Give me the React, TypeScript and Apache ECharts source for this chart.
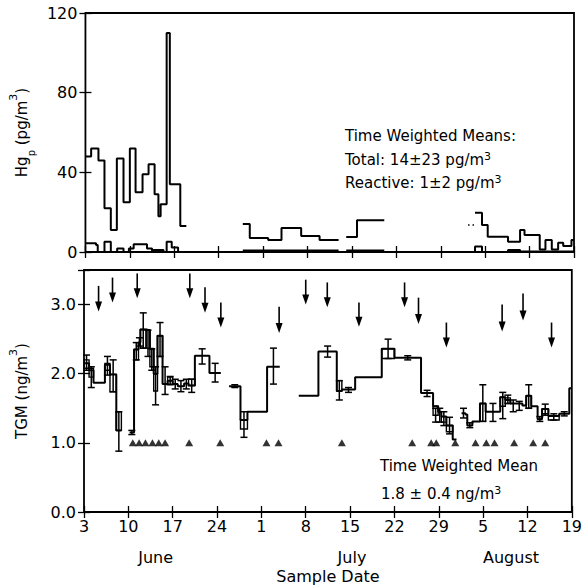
import React, { useEffect, useRef } from 'react';
import * as echarts from 'echarts';

// x axis: days since 3 June (0 = June 3, 28 = July 1, 59 = Aug 1)
const xTickLabels = ['3', '10', '17', '24', '1', '8', '15', '22', '29', '5', '12', '19'];
const monthNames = ['June', 'July', 'August'];
const monthCenters = [11.3, 42.3, 67.4];

// Particulate Hg, total (step segments)
const hgTotalStart = [0, 0.9, 2.05, 3, 4, 4.95, 6, 7, 7.9, 9, 9.95, 10.9, 11.5, 11.85, 12.8, 13.3, 14.95,
  24.8, 25.9, 28.8, 30.9, 34, 36.9, 41.1, 42.8,
  61.4, 62.5, 63.4, 66.6, 68.5, 69.2, 71.6, 72.5, 73.5, 74.5, 75.3, 76.6];
const hgTotalEnd = [0.9, 2.05, 3, 4, 4.95, 6, 7, 7.9, 9, 9.95, 10.9, 11.5, 11.85, 12.8, 13.3, 14.95, 15.9,
  25.9, 28.8, 30.9, 34, 36.9, 39.9, 42.8, 47.1,
  62.5, 63.4, 66.6, 68.5, 69.2, 71.6, 72.5, 73.5, 74.5, 75.3, 76.6, 77];
const hgTotalValue = [48, 52, 46, 22, 11, 47, 25, 52, 30, 39, 44, 29, 18, 24, 110, 34, 13,
  14, 7, 6, 12, 8, 6, 7.5, 16,
  19.7, 13.6, 7.7, 5.2, 11, 8.5, 1.3, 6, 1.3, 4.7, 3, 6];
const hgDottedStart = [60.3];
const hgDottedEnd = [61.4];
const hgDottedValue = [13.6];

// Particulate Hg, reactive
const hgReactStart = [0, 1.67, 1.94, 3, 4, 5, 6, 6.85, 7.6, 9.7, 10.5, 10.7, 12.3, 12.8, 13.6, 14.6,
  24.8, 41.1, 60.3, 61.4, 62.5, 66.6, 68.5];
const hgReactEnd = [1.67, 1.94, 3, 4, 5, 6, 6.85, 7.6, 9.7, 10.5, 10.7, 12.3, 12.8, 13.6, 14.6, 15.9,
  39.9, 47.1, 61.4, 62.5, 66.6, 68.5, 77];
const hgReactValue = [4.4, 3.5, 0, 5.2, 0, 1.8, 0, 1.8, 3.9, 1.8, 0, 1, 0, 5.2, 2.3, 0,
  0.7, 0.7, 0, 2.7, 0, 1, 0.3];

// TGM (ng/m3)
const tgmStart = [
  0, 0.8, 1.5, 3.3, 4.1, 5.1,
  7.2, 7.9, 8.6, 8.9, 9.8, 10.4, 11.0, 11.6, 12.4, 13.2, 14.0, 14.8, 15.8, 16.5, 17.5, 19.8,
  22.9, 24.7, 25.8, 28.9,
  33.9, 37, 39.9, 40.7, 42.8, 47, 49, 53.2, 55.1, 55.9, 56.4, 57.2, 58.2,
  59.6, 60.2, 60.5, 61.3, 62.5, 63.4, 65.7, 66.5, 67.3, 68.2, 69.2, 69.8, 70.6, 71.6, 72.3, 73.3, 75, 76.6];
const tgmEnd = [
  0.8, 1.5, 3.3, 4.1, 5.1, 5.9,
  7.9, 8.6, 8.9, 9.8, 10.4, 11.0, 11.6, 12.4, 13.2, 14.0, 14.8, 15.8, 16.5, 17.5, 19.8, 21.6,
  24.7, 25.8, 28.9, 30.9,
  37, 39.9, 40.7, 42.8, 47, 49, 53.2, 55.1, 55.9, 56.4, 57.2, 58.2, 58.8,
  60.2, 60.5, 61.3, 62.5, 63.4, 65.7, 66.5, 67.3, 68.2, 69.2, 69.8, 70.6, 71.6, 72.3, 73.3, 75, 76.6, 77];
const tgmValue = [
  2.15, 2.05, 1.87, 2.13, 1.99, 1.18,
  1.15, 2.35, 2.45, 2.64, 2.63, 2.36, 2.0, 2.55, 1.85, 1.9, 1.85, 1.82, 1.86, 1.83, 2.26, 2.01,
  1.82, 1.33, 1.45, 2.1,
  1.68, 2.32, 1.75, 1.77, 1.95, 2.36, 2.23, 1.72, 1.53, 1.45, 1.38, 1.25, 1.05,
  1.43, 1.41, 1.25, 1.31, 1.57, 1.45, 1.66, 1.62, 1.57, 1.57, 1.54, 1.68, 1.53, 1.34, 1.49, 1.39, 1.42, 1.79];
const tgmErrLo = [
  2.05, 1.8, null, 1.98, 1.74, 0.88,
  1.12, 2.2, 2.4, 2.37, 2.25, 2.05, 1.55, 2.25, 1.7, 1.84, 1.78, 1.74, 1.78, 1.73, 2.14, 1.88,
  1.8, 1.08, null, 1.85,
  null, 2.24, 1.62, 1.73, null, 2.22, 2.2, 1.67, 1.3, 1.3, 1.25, 1.13, null,
  1.36, null, 1.22, null, 1.31, 1.31, 1.35, 1.57, 1.45, 1.47, null, 1.5, null, 1.31, 1.4, 1.33, 1.39, null];
const tgmErrHi = [
  2.27, 2.1, null, 2.25, 2.2, 1.45,
  1.18, 2.45, 2.52, 2.88, 2.63, 2.36, 2.1, 2.74, 2.1, 1.96, 1.92, 1.9, 1.92, 1.92, 2.36, 2.15,
  1.84, 1.45, null, 2.37,
  null, 2.4, 1.9, 1.8, null, 2.5, 2.26, 1.76, 1.5, 1.5, 1.45, 1.37, null,
  1.5, null, 1.29, null, 1.84, 1.57, 1.73, 1.69, 1.62, 1.6, null, 1.84, null, 1.38, 1.56, 1.42, 1.45, null];
const tgmBoxLo = [
  2.08, 1.95, null, 2.05, 1.74, 1.18,
  null, 2.2, null, 2.37, 2.37, 2.1, 1.75, 2.25, null, 1.85, null, null, null, 1.83, null, null,
  null, 1.2, null, null,
  null, null, 1.75, null, null, 2.22, null, null, 1.4, null, 1.3, 1.16, null,
  null, null, null, null, 1.31, null, 1.53, 1.57, null, null, null, 1.5, null, null, 1.42, 1.33, null, null];
const tgmBoxHi = [
  2.2, 2.08, null, 2.15, 1.99, 1.45,
  null, 2.35, null, 2.64, 2.63, 2.36, 2.0, 2.55, null, 1.95, null, null, null, 1.92, null, null,
  null, 1.33, null, null,
  null, null, 1.9, null, null, 2.36, null, null, 1.53, null, 1.38, 1.25, null,
  null, null, null, null, 1.57, null, 1.66, 1.65, null, null, null, 1.68, null, null, 1.49, 1.39, null, null];

// Arrows (event markers) in TGM panel
const arrowDay = [2.3, 4.5, 8.4, 16.7, 19.1, 21.6, 30.8, 35, 38.4, 43.4, 50.6, 52.8, 57.2, 66, 69.3, 73.8];
const arrowTop = [3.27, 3.39, 3.45, 3.45, 3.25, 3.03, 2.97, 3.36, 3.32, 3.03, 3.32, 3.1, 2.74, 3.0, 3.16, 2.74];
const arrowBottom = [2.9, 3.03, 3.09, 3.09, 2.88, 2.67, 2.59, 3.0, 2.96, 2.68, 2.96, 2.72, 2.38, 2.61, 2.77, 2.38];

// Triangle markers at 1.0
const triangleDay = [7.7, 8.7, 9.7, 10.8, 11.8, 12.8, 16.6, 21.5, 28.8, 30.7, 40.7, 51.8, 54.8, 55.6, 58.6,
  61.8, 63.5, 64.8, 67.9, 70.9, 72.8];

const FONT = 'DejaVu Sans';

function stepPoints(s: number[], e: number[], v: number[]) {
  const pts: any[] = [];
  for (let i = 0; i < s.length; i++) {
    if (i > 0 && Math.abs(s[i] - e[i - 1]) > 0.01) pts.push([s[i], '-']);
    pts.push([s[i], v[i]]);
    pts.push([e[i], v[i]]);
  }
  return pts;
}

function buildOption() {
  const errData: number[][] = [];
  const boxData: number[][] = [];
  for (let i = 0; i < tgmStart.length; i++) {
    if (tgmErrLo[i] != null && tgmErrHi[i] != null) {
      errData.push([(tgmStart[i] + tgmEnd[i]) / 2, tgmErrLo[i] as number, tgmErrHi[i] as number]);
    }
    if (tgmBoxLo[i] != null && tgmBoxHi[i] != null) {
      boxData.push([tgmStart[i], tgmEnd[i], tgmBoxLo[i] as number, tgmBoxHi[i] as number]);
    }
  }
  const arrowData = arrowDay.map((d, i) => [d, arrowTop[i], arrowBottom[i]]);

  const tickStyle = { show: true, inside: true, length: 6, lineStyle: { color: '#000', width: 1.3 } };
  const labelStyle = { color: '#000', fontFamily: FONT, fontSize: 16 };
  const baseX = {
    type: 'value', min: 0, max: 77, interval: 7,
    axisLine: { show: false }, splitLine: { show: false }, axisTick: tickStyle,
  };
  const nameRich = {
    b: { fontFamily: FONT, fontSize: 15, color: '#000', lineHeight: 28 },
    s: { fontFamily: FONT, fontSize: 10, color: '#000', verticalAlign: 'bottom' },
    u: { fontFamily: FONT, fontSize: 11, color: '#000', verticalAlign: 'top' },
  };

  return {
    animation: false,
    backgroundColor: '#fff',
    grid: [
      { left: 77.5, right: 11, top: 13, height: 239, show: true, borderColor: '#000', borderWidth: 1.8, backgroundColor: 'transparent' },
      { left: 77.5, right: 11, top: 270, height: 242, show: true, borderColor: '#000', borderWidth: 1.8, backgroundColor: 'transparent' },
    ],
    xAxis: [
      { ...baseX, gridIndex: 0, position: 'bottom', axisLabel: { show: false } },
      { ...baseX, gridIndex: 0, position: 'top', axisLabel: { show: false } },
      {
        ...baseX, gridIndex: 1, position: 'bottom',
        axisLabel: { ...labelStyle, margin: 6, formatter: (v: number) => xTickLabels[Math.round(v / 7)] ?? '' },
        name: 'Sample Date', nameLocation: 'middle', nameGap: 56,
        nameTextStyle: { color: '#000', fontFamily: FONT, fontSize: 16 },
      },
      { ...baseX, gridIndex: 1, position: 'top', axisLabel: { show: false } },
    ],
    yAxis: [
      {
        type: 'value', gridIndex: 0, min: 0, max: 120, interval: 40, position: 'left',
        axisLine: { show: false }, splitLine: { show: false }, axisTick: tickStyle,
        axisLabel: { ...labelStyle, margin: 8 },
        name: '{b|Hg}{s|p}{b| (pg/m}{u|3}{b|)}', nameLocation: 'middle', nameRotate: 90, nameGap: 48,
        nameTextStyle: { rich: nameRich },
      },
      {
        type: 'value', gridIndex: 0, min: 0, max: 120, interval: 40, position: 'right',
        axisLine: { show: false }, splitLine: { show: false }, axisTick: tickStyle, axisLabel: { show: false },
      },
      {
        type: 'value', gridIndex: 1, min: 0, max: 3.5, interval: 1, position: 'left',
        axisLine: { show: false }, splitLine: { show: false }, axisTick: tickStyle,
        axisLabel: { ...labelStyle, margin: 8, formatter: (v: number) => (v > 3.2 ? '' : v.toFixed(1)) },
        name: '{b|TGM (ng/m}{u|3}{b|)}', nameLocation: 'middle', nameRotate: 90, nameGap: 48,
        nameTextStyle: { rich: nameRich },
      },
      {
        type: 'value', gridIndex: 1, min: 0, max: 3.5, interval: 1, position: 'right',
        axisLine: { show: false }, splitLine: { show: false }, axisTick: tickStyle, axisLabel: { show: false },
      },
    ],
    series: [
      {
        type: 'line', xAxisIndex: 0, yAxisIndex: 0, data: stepPoints(hgTotalStart, hgTotalEnd, hgTotalValue),
        showSymbol: false, connectNulls: false, lineStyle: { color: '#000', width: 2 }, clip: true,
      },
      {
        type: 'line', xAxisIndex: 0, yAxisIndex: 0, data: stepPoints(hgDottedStart, hgDottedEnd, hgDottedValue),
        showSymbol: false, lineStyle: { color: '#000', width: 1.5, type: [1.5, 3] },
      },
      {
        type: 'line', xAxisIndex: 0, yAxisIndex: 0, data: stepPoints(hgReactStart, hgReactEnd, hgReactValue),
        showSymbol: false, connectNulls: false, lineStyle: { color: '#000', width: 2 },
      },
      {
        type: 'line', xAxisIndex: 2, yAxisIndex: 2, data: stepPoints(tgmStart, tgmEnd, tgmValue),
        showSymbol: false, connectNulls: false, lineStyle: { color: '#000', width: 2 },
      },
      {
        type: 'custom', xAxisIndex: 2, yAxisIndex: 2, data: boxData, encode: { x: [0, 1], y: [2, 3] },
        renderItem: (params: any, api: any) => {
          const p1 = api.coord([api.value(0), api.value(3)]);
          const p2 = api.coord([api.value(1), api.value(2)]);
          return {
            type: 'rect',
            shape: { x: p1[0], y: p1[1], width: p2[0] - p1[0], height: p2[1] - p1[1] },
            style: { fill: 'none', stroke: '#000', lineWidth: 1.4 },
          };
        },
      },
      {
        type: 'custom', xAxisIndex: 2, yAxisIndex: 2, data: errData, encode: { x: 0, y: [1, 2] },
        renderItem: (params: any, api: any) => {
          const x = api.value(0);
          const lo = api.coord([x, api.value(1)]);
          const hi = api.coord([x, api.value(2)]);
          const w = 3.5;
          const st = { stroke: '#000', lineWidth: 1.5 };
          return {
            type: 'group',
            children: [
              { type: 'line', shape: { x1: lo[0], y1: lo[1], x2: hi[0], y2: hi[1] }, style: st },
              { type: 'line', shape: { x1: lo[0] - w, y1: lo[1], x2: lo[0] + w, y2: lo[1] }, style: st },
              { type: 'line', shape: { x1: hi[0] - w, y1: hi[1], x2: hi[0] + w, y2: hi[1] }, style: st },
            ],
          };
        },
      },
      {
        type: 'custom', xAxisIndex: 2, yAxisIndex: 2, data: arrowData, encode: { x: 0, y: [1, 2] },
        renderItem: (params: any, api: any) => {
          const x = api.value(0);
          const top = api.coord([x, api.value(1)]);
          const bot = api.coord([x, api.value(2)]);
          const hw = 3.5, hh = 10;
          return {
            type: 'group',
            children: [
              { type: 'line', shape: { x1: top[0], y1: top[1], x2: bot[0], y2: bot[1] - hh + 1 }, style: { stroke: '#000', lineWidth: 1.6 } },
              { type: 'polygon', shape: { points: [[bot[0] - hw, bot[1] - hh], [bot[0] + hw, bot[1] - hh], [bot[0], bot[1]]] }, style: { fill: '#000' } },
            ],
          };
        },
      },
      {
        type: 'scatter', xAxisIndex: 2, yAxisIndex: 2, data: triangleDay.map((d) => [d, 1.0]),
        symbol: 'triangle', symbolSize: [8, 7], itemStyle: { color: '#000' },
      },
    ],
  };
}

export default function App() {
  const ref = useRef<HTMLDivElement>(null);
  useEffect(() => {
    const chart = echarts.init(ref.current!, null, { renderer: 'svg' });
    chart.setOption(buildOption() as any);
    const txt = (x: number, y: number, text: string, extra: any = {}) => ({
      type: 'text', x, y,
      style: { text, fontFamily: FONT, fontSize: 15, fill: '#000', align: 'left', verticalAlign: 'middle', ...extra },
    });
    const rich = {
      b: { fontFamily: FONT, fontSize: 15, fill: '#000', color: '#000', lineHeight: 19 },
      u: { fontFamily: FONT, fontSize: 11, fill: '#000', color: '#000', verticalAlign: 'top' },
    };
    const months = monthNames.map((m, i) => {
      const px = chart.convertToPixel({ xAxisIndex: 2 }, monthCenters[i]) as number;
      return txt(px, 557, m, { align: 'center', fontSize: 16 });
    });
    chart.setOption({
      graphic: [
        txt(345, 136, 'Time Weighted Means:'),
        txt(345, 160, '{b|Total: 14±23 pg/m}{u|3}', { rich }),
        txt(345, 183, '{b|Reactive: 1±2 pg/m}{u|3}', { rich }),
        txt(380, 466, 'Time Weighted Mean'),
        txt(381, 494, '{b|1.8 ± 0.4 ng/m}{u|3}', { rich }),
        ...months,
      ],
    });
    return () => chart.dispose();
  }, []);
  return <div ref={ref} style={{ position: 'absolute', left: 0, top: 0, width: 585, height: 587 }} />;
}
